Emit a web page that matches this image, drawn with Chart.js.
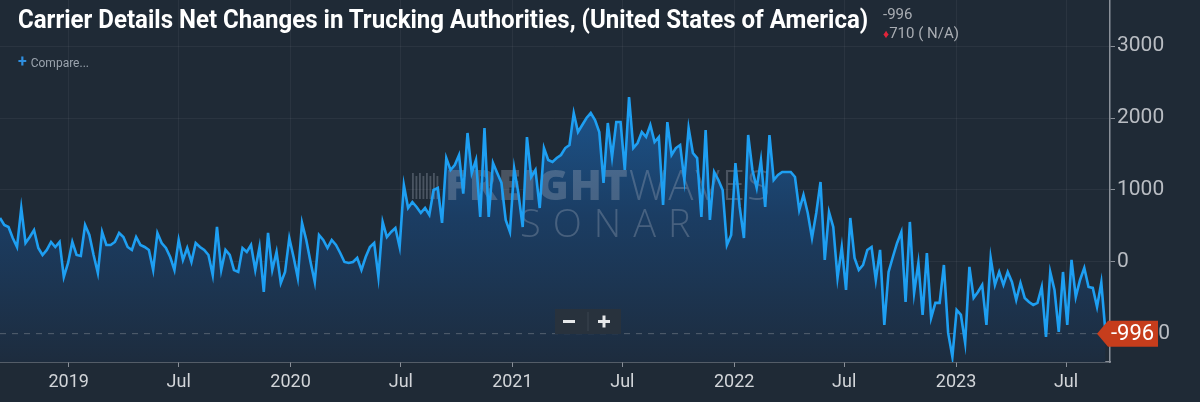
<!DOCTYPE html>
<html>
<head>
<meta charset="utf-8">
<script src="https://cdn.jsdelivr.net/npm/chart.js@4.4.0/dist/chart.umd.min.js"></script>
<style>
  html, body { margin: 0; padding: 0; background: #1f2a36; overflow: hidden; }
  #wrap { position: relative; width: 1200px; height: 402px; }
  #title { position: absolute; left: 18px; top: 5px; font: bold 25px Roboto, sans-serif; color: #fff;
           white-space: nowrap; transform-origin: 0 0; }
  #compare { position: absolute; left: 18px; top: 52px; font: 12px Roboto, sans-serif; color: #9aa3ad; }
  #compare b { color: #2f8fe0; font-size: 16px; font-weight: bold; margin-right: 4px; }
  #last { position: absolute; left: 883px; top: 5px; font: 15px Roboto, sans-serif; color: #a9adb3; line-height: 19px; }
  #last i { color: #e0243a; font-style: normal; font-size: 12px; }
</style>
</head>
<body>
<div id="wrap">
  <canvas id="chart" width="1200" height="402"></canvas>
  <div id="title">Carrier Details Net Changes in Trucking Authorities, (United States of America)</div>
  <div id="compare"><b>+</b>Compare...</div>
  <div id="last">-996<br><i>&#9830;</i>710 ( N/A)</div>
</div>
<script>
// weekly net changes, first week starts 2018-09-10
var startDate = '2018-09-10';
var netChanges2018 = [611, 514, 486, 333, 208, 750, 264, 347, 444, 194, 97, 167, 278, 208, 278, -208, -14];
var netChanges2019 = [278, 97, 83, 514, 375, 97, -153, 417, 236, 236, 278, 403, 347, 208, 167,
  347, 236, 208, 167, -111, 403, 264, 194, 69, -111, 306, 28, 194, 0, 264, 208, 167, 97, -181, 486,
  -111, 167, 97, -111, -139, 194, 139, 236, -111, 208, -417, 403, -111, 139, -292, -139, 333];
var netChanges2020 = [69, -222, 542, 306, 0, -278, 375, 306, 194, 306, 236, 125, 0, -14, 0, 56, -111,
  69, 208, 264, -208, 556, 347, 417, 472, 208, 1069, 750, 833, 764, 681, 750, 653, 1000, 1028, 542,
  1444, 1278, 1347, 1486, 950, 1792, 1236, 1417, 625, 1861, 625, 1375, 1236, 1100, 583, 417];
var netChanges2021 = [1300, 950, 486, 1736, 1181, 1278, 750, 1583, 1417, 1389, 1444, 1486, 1583, 1625,
  2069, 1806, 1903, 2000, 2069, 1972, 1806, 1097, 1931, 1458, 1944, 1944, 1278, 2292, 1583, 1653, 1806,
  1736, 1903, 1667, 1736, 792, 1944, 1486, 1583, 1625, 1139, 1861, 1514, 1444, 625, 1833, 583, 1250,
  1139, 1000, 236, 375];
var netChanges2022 = [1375, 764, 333, 1764, 1278, 1028, 1417, 764, 1764, 1139, 1208, 1250, 1250, 1250,
  1181, 722, 931, 681, 333, 681, 1111, 28, 694, 486, -222, 208, -389, 611, 56, -111, -42, 167, 208,
  -250, 167, -875, -139, 69, 264, 417, -556, 556, -431, -14, -736, 125, -778, -569, -569, -42, -986, -1319];
var netChanges2023 = [-667, -736, -1125, -69, -500, -417, -319, -875, 56, -319, -139, -319, -139, -278,
  -528, -292, -500, -556, -597, -569, -347, -1042, -139, -389, -972, -139, -875, 28, -486, -250, -83,
  -347, -361, -625, -286, -996];

var xTickDates = ['2019-01-01', '2019-07-01', '2020-01-01', '2020-07-01', '2021-01-01', '2021-07-01',
  '2022-01-01', '2022-07-01', '2023-01-01', '2023-07-01'];
var xTickLabels = ['2019', 'Jul', '2020', 'Jul', '2021', 'Jul', '2022', 'Jul', '2023', 'Jul'];
var yTicks = [-1000, 0, 1000, 2000, 3000];
var lastValue = -996;

function decYear(d) {
  var y = d.getUTCFullYear();
  var s = Date.UTC(y, 0, 1), e = Date.UTC(y + 1, 0, 1);
  return y + (d.getTime() - s) / (e - s);
}

var values = [].concat(netChanges2018, netChanges2019, netChanges2020, netChanges2021, netChanges2022, netChanges2023);
var t0 = new Date(startDate + 'T00:00:00Z').getTime();
var points = values.map(function (v, i) {
  return { x: decYear(new Date(t0 + i * 7 * 86400000)), y: v };
});

var xMin = points[0].x;
var xMax = 2023.694;

var decor = {
  id: 'decor',
  beforeDraw: function (chart) {
    var c = chart.ctx;
    c.save();
    c.fillStyle = '#1f2a36';
    c.fillRect(0, 0, chart.width, chart.height);
    c.restore();
  },
  beforeDatasetsDraw: function (chart) {
    var c = chart.ctx, a = chart.chartArea;
    var yL = chart.scales.y.getPixelForValue(lastValue);
    c.save();
    // dashed last value line
    c.strokeStyle = 'rgba(150,155,165,0.45)';
    c.setLineDash([6, 6]);
    c.lineWidth = 1;
    c.beginPath();
    c.moveTo(a.left, yL);
    c.lineTo(a.right, yL);
    c.stroke();
    c.setLineDash([]);
    // watermark
    c.fillStyle = 'rgba(165,175,190,0.32)';
    for (var i = 0; i < 8; i++) {
      c.fillRect(412 + i * 3.5, 173 + (i % 2) * 3, 1.8, 26 - (i % 2) * 3);
    }
    c.textBaseline = 'alphabetic';
    c.font = '900 42px "Open Sans", sans-serif';
    c.letterSpacing = '1px';
    c.fillText('FREIGHT', 445, 200);
    var w = c.measureText('FREIGHT').width;
    c.font = '300 42px "Open Sans", sans-serif';
    c.letterSpacing = '2px';
    c.fillText('WAVES', 445 + w, 200);
    c.font = '300 38px "Open Sans", sans-serif';
    c.letterSpacing = '12px';
    c.fillText('SONAR', 520, 237);
    c.restore();
  },
  afterDraw: function (chart) {
    var c = chart.ctx;
    var yL = chart.scales.y.getPixelForValue(lastValue);
    c.save();
    // zoom buttons
    c.fillStyle = '#28323d';
    c.fillRect(555, 309, 66, 25);
    c.strokeStyle = '#3a4450';
    c.beginPath(); c.moveTo(588, 312); c.lineTo(588, 331); c.stroke();
    c.fillStyle = '#e6e8ea';
    c.fillRect(563, 320, 12, 3);
    c.fillRect(598, 320, 12, 3);
    c.fillRect(602.5, 315.5, 3, 12);
    // last value tag
    c.fillStyle = '#c63d1c';
    c.beginPath();
    c.moveTo(1097, yL);
    c.lineTo(1108, yL - 13);
    c.lineTo(1158, yL - 13);
    c.lineTo(1158, yL + 13);
    c.lineTo(1108, yL + 13);
    c.closePath();
    c.fill();
    c.fillStyle = '#ffffff';
    c.font = '22px Roboto, sans-serif';
    c.textBaseline = 'middle';
    c.fillText(String(lastValue), 1111, yL + 1);
    c.restore();
  }
};

var ctx = document.getElementById('chart').getContext('2d');
new Chart(ctx, {
  type: 'line',
  data: {
    datasets: [{
      data: points,
      borderColor: '#1e9ff2',
      borderWidth: 2.6,
      pointRadius: 0,
      tension: 0,
      fill: 'start',
      backgroundColor: function (context) {
        var chart = context.chart, a = chart.chartArea;
        if (!a) return 'rgba(0,0,0,0)';
        var g = chart.ctx.createLinearGradient(0, a.top, 0, a.bottom);
        g.addColorStop(0, '#2066a8');
        g.addColorStop(0.3, '#1c5288');
        g.addColorStop(0.6, '#1b3d63');
        g.addColorStop(1, '#1d2c3e');
        return g;
      }
    }]
  },
  options: {
    responsive: false,
    animation: false,
    layout: { padding: 0 },
    plugins: {
      legend: { display: false },
      tooltip: { enabled: false },
      filler: { drawTime: 'beforeDatasetsDraw' }
    },
    scales: {
      x: {
        type: 'linear',
        min: xMin,
        max: xMax,
        afterBuildTicks: function (scale) {
          scale.ticks = xTickDates.map(function (d) { return { value: decYear(new Date(d + 'T00:00:00Z')) }; });
        },
        afterFit: function (scale) {
          scale.height = 40;
          scale.paddingLeft = 0;
          scale.paddingRight = 0;
        },
        ticks: {
          autoSkip: false,
          maxRotation: 0,
          padding: 5,
          color: '#d2d5d9',
          font: { family: 'Roboto', size: 18 },
          callback: function (v, i) { return xTickLabels[i]; }
        },
        grid: { color: 'rgba(255,255,255,0.05)', tickColor: '#8a9099', tickLength: 5 },
        border: { color: '#8a9099', width: 1.5 }
      },
      y: {
        position: 'right',
        min: -1390,
        max: 3640,
        afterBuildTicks: function (scale) {
          scale.ticks = yTicks.map(function (v) { return { value: v }; });
        },
        afterFit: function (scale) {
          scale.width = 90;
          scale.paddingTop = 0;
          scale.paddingBottom = 0;
        },
        ticks: {
          padding: 2,
          color: '#b9bdc3',
          font: { family: 'Roboto', size: 21 },
          callback: function (v) { return String(v); }
        },
        grid: { color: 'rgba(255,255,255,0.05)', tickColor: '#8a9099', tickLength: 5 },
        border: { color: '#8a9099', width: 1.5 }
      }
    }
  },
  plugins: [decor]
});

var t = document.getElementById('title');
t.style.transform = 'scaleX(' + (850 / t.offsetWidth) + ')';
</script>
</body>
</html>
